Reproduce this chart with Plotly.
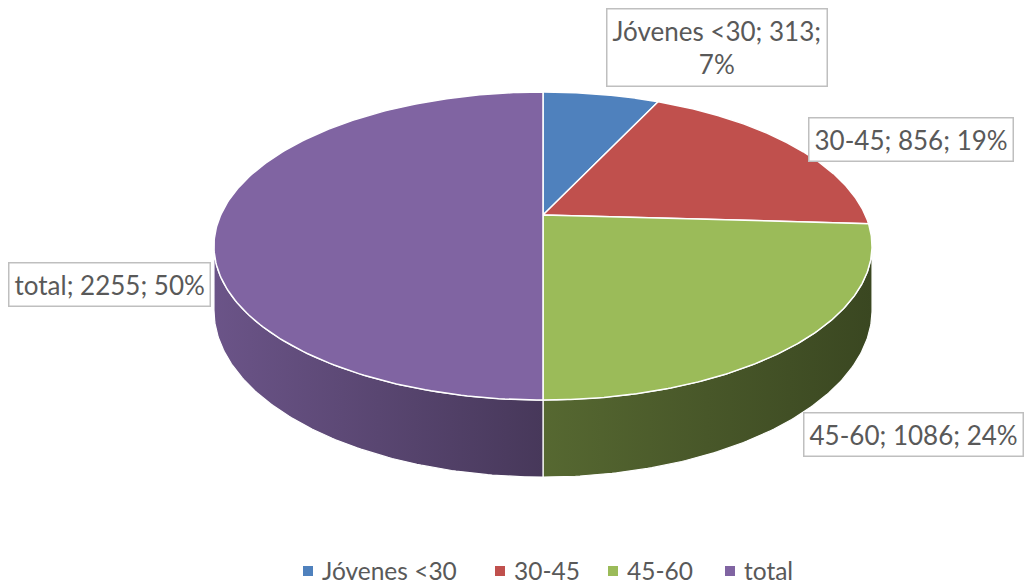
import numpy as np
import plotly.graph_objects as go

# ---- data ----
categories = ["Jóvenes <30", "30-45", "45-60", "total"]
values = [313, 856, 1086, 2255]
label_wrap = [True, False, False, False]

# ---- style ----
top_colors = ["#4f81bd", "#c0504d", "#9bbb59", "#8064a2"]
FONT = "Lato"
TXT = "#595959"

# ---- 3D pie projection (pixel space) ----
CX, CY = 543, 215          # apex of the pie on screen
A, B, K = 322.3, 147.8, 0.2013   # radii and perspective factor
DEPTH = 61.5               # thickness of the pie


def proj(theta_deg, drop=0.0):
    t = np.radians(theta_deg)
    u, v = np.sin(t), np.cos(t)
    w = 1 + K * v
    return CX + A * u / w, CY - B * v / w + drop / w


def hex_to_rgb(h):
    h = h.lstrip("#")
    return tuple(int(h[i:i + 2], 16) for i in (0, 2, 4))


def shade(h, f):
    r, g, b = hex_to_rgb(h)
    return f"rgb({int(r * f)},{int(g * f)},{int(b * f)})"


total = sum(values)
fracs = np.array(values) / total
cum = np.concatenate([[0], np.cumsum(fracs)]) * 360.0
pcts = [int(round(f * 100)) for f in fracs]

theta_s = np.degrees(np.arccos(-K))      # right silhouette
vis_lo, vis_hi = theta_s, 360 - theta_s  # visible side range
x_left = proj(vis_hi)[0]
x_right = proj(vis_lo)[0]
x_mid = CX

fig = go.Figure()

# sides
for i, c in enumerate(top_colors):
    lo, hi = max(cum[i], vis_lo), min(cum[i + 1], vis_hi)
    if hi <= lo:
        continue
    th = np.linspace(lo, hi, 120)
    xt, yt = proj(th)
    xb, yb = proj(th[::-1], DEPTH)
    xs = np.concatenate([xt, xb, [xt[0]]])
    ys = np.concatenate([yt, yb, [yt[0]]])
    xstops = [x_left, x_mid, x_right]
    fstops = [0.84, 0.56, 0.38]
    cs = []
    for j in range(5):
        p = j / 4
        xv = x_left + p * (x_right - x_left)
        cs.append([p, shade(c, float(np.interp(xv, xstops, fstops)))])
    fig.add_trace(go.Scatter(
        x=xs, y=ys, mode="lines", fill="toself",
        fillgradient=dict(type="horizontal", colorscale=cs,
                          start=x_left, stop=x_right),
        line=dict(color="white", width=1.2),
        showlegend=False, hoverinfo="skip"))

# top faces
for i, c in enumerate(top_colors):
    th = np.linspace(cum[i], cum[i + 1], 200)
    xa, ya = proj(th)
    xs = np.concatenate([[CX], xa, [CX]])
    ys = np.concatenate([[CY], ya, [CY]])
    fig.add_trace(go.Scatter(
        x=xs, y=ys, mode="lines", fill="toself", fillcolor=c,
        line=dict(color="white", width=1.5),
        showlegend=False, hoverinfo="skip"))

# legend (drawn in pixel space below the pie)
legend_sq_x = [308, 500, 613, 730]
LEG_Y = 570
fig.add_trace(go.Scatter(
    x=legend_sq_x, y=[LEG_Y + 1] * len(categories), mode="markers",
    marker=dict(symbol="square", size=10, color=top_colors),
    showlegend=False, hoverinfo="skip"))
for cat, sx in zip(categories, legend_sq_x):
    fig.add_annotation(
        x=sx + 13, y=LEG_Y, xref="x", yref="y", text=cat, showarrow=False,
        xanchor="left", yanchor="middle", borderpad=0,
        font=dict(family=FONT, size=24.5, color=TXT))

# data labels
label_pos = [(717, 47), (911, 139), (913, 434), (109, 284)]
for i, cat in enumerate(categories):
    sep = ";<br>" if label_wrap[i] else "; "
    text = f"{cat}; {values[i]}{sep}{pcts[i]}%"
    x, y = label_pos[i]
    fig.add_annotation(
        x=x, y=y, xref="x", yref="y", text=text, showarrow=False,
        font=dict(family=FONT, size=26, color=TXT),
        bgcolor="white", bordercolor="#bfbfbf", borderwidth=1.5,
        borderpad=5, align="center")

fig.update_layout(
    width=1025, height=587,
    margin=dict(l=0, r=0, t=0, b=0, autoexpand=False),
    paper_bgcolor="white", plot_bgcolor="white",
    xaxis=dict(range=[0, 1025], visible=False, fixedrange=True),
    yaxis=dict(range=[587, 0], visible=False, fixedrange=True),
    showlegend=False,
)

fig.write_html(
    "out.html",
    config=dict(displayModeBar=False),
    post_script="document.body.style.margin='0';document.body.style.padding='0';",
)
